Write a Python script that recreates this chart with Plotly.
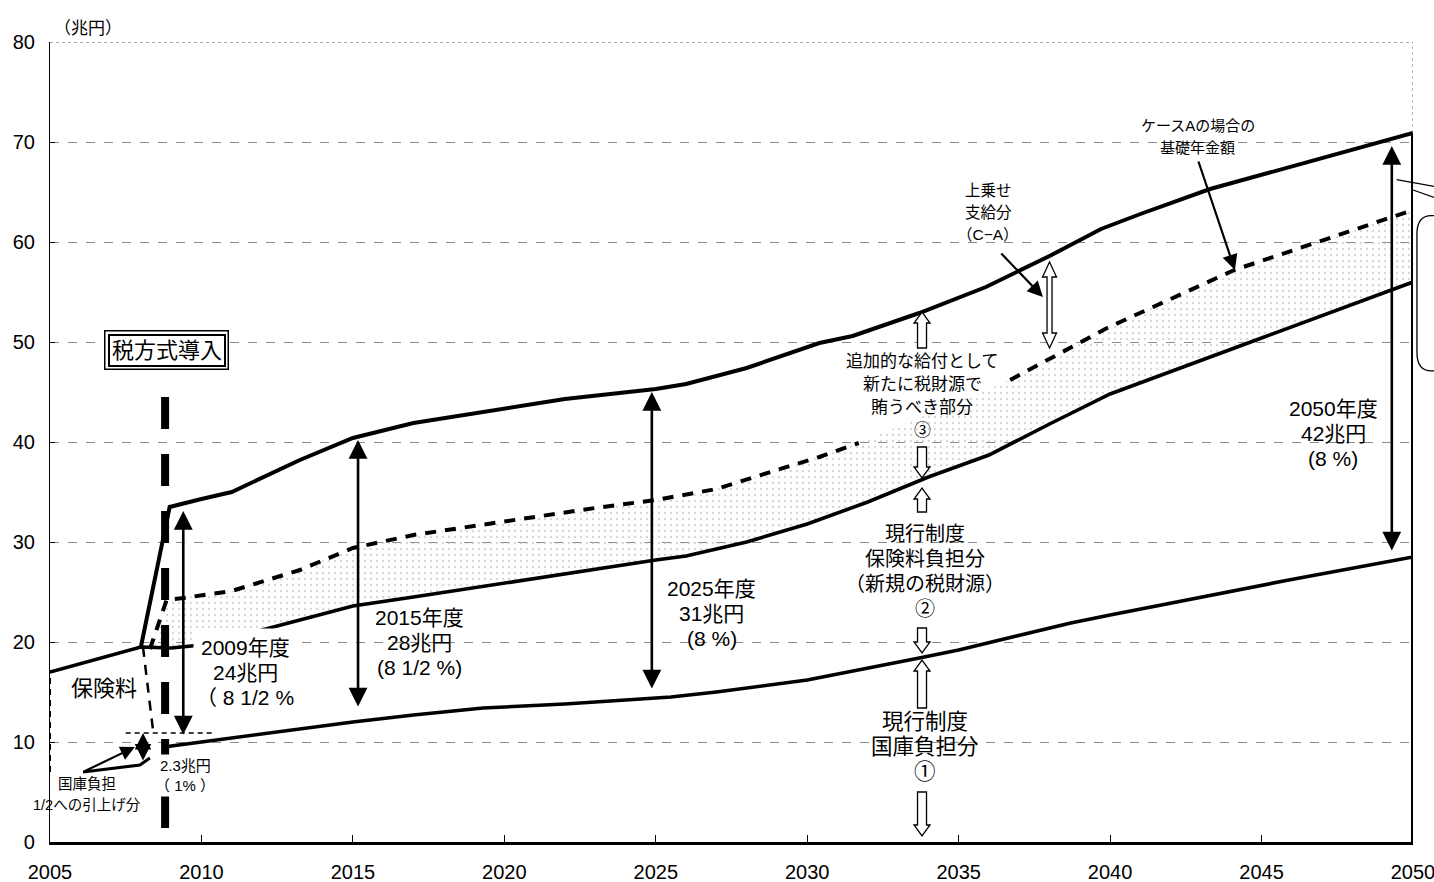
import plotly.graph_objects as go

# ---------------- data (兆円) ----------------
x_ticks = [2005, 2010, 2015, 2020, 2025, 2030, 2035, 2040, 2045, 2050]
y_ticks = [0, 10, 20, 30, 40, 50, 60, 70, 80]

# 税方式による給付総額（ケースC）
top_years = [2008.0, 2008.95, 2010, 2011, 2013.25, 2015, 2017, 2020, 2022, 2025, 2026, 2028,
             2030.4, 2031.5, 2033.7, 2035.9, 2038, 2039.7, 2041, 2043.3, 2045, 2050]
top_vals = [19.5, 33.5, 34.3, 35.0, 38.2, 40.4, 41.9, 43.4, 44.3, 45.3, 45.8, 47.4,
            49.9, 50.6, 52.9, 55.5, 58.6, 61.3, 62.8, 65.3, 66.7, 70.9]

# 現行制度（国庫負担＋保険料）
mid_years = [2005, 2008, 2009, 2010, 2012, 2013, 2015, 2017, 2020, 2023, 2025, 2026, 2028,
             2030, 2032, 2034, 2036, 2038, 2040, 2045, 2050]
mid_vals = [17.0, 19.5, 19.4, 19.7, 21.2, 22.0, 23.6, 24.5, 25.9, 27.3, 28.2, 28.6, 30.0,
            31.8, 34.0, 36.5, 38.7, 41.8, 44.8, 50.4, 56.0]

# 現行制度 国庫負担分
kok_years = [2008.7, 2009, 2010, 2012, 2015, 2017, 2019.3, 2022, 2025.5, 2027, 2030,
             2033.7, 2035, 2038.7, 2040, 2045.9, 2050]
kok_vals = [9.4, 9.6, 10.0, 10.8, 12.0, 12.7, 13.4, 13.8, 14.5, 15.0, 16.2,
            18.4, 19.2, 21.9, 22.7, 26.2, 28.5]

# ケースAの場合の基礎年金額
ca_years = [2008.3, 2008.85, 2009.4, 2011, 2013.25, 2015, 2017, 2020, 2023, 2025, 2027,
            2029, 2030.4, 2031.7, 2036.7, 2038.7, 2039.9, 2044.1, 2050]
ca_vals = [19.3, 24.2, 24.4, 25.1, 27.2, 29.4, 30.7, 32.1, 33.4, 34.2, 35.3,
           37.2, 38.5, 39.9, 46.2, 49.4, 51.4, 57.2, 63.2]

kokko_2005 = 7.0          # 2005年度 国庫負担
kokko_half_level = 10.9   # 国庫負担1/2引上げ後
reform_year = 2008.8      # 税方式導入

# 必要税財源の矢印 (年, 下端, 上端)
need_years = [2009.4, 2015.17, 2024.87, 2049.3]
need_low = [10.6, 13.4, 15.2, 29.0]
need_high = [33.1, 40.2, 45.0, 69.6]
need_labels = [["2009年度", "24兆円", "（ 8 1/2 %"],
               ["2015年度", "28兆円", "(8 1/2 %)"],
               ["2025年度", "31兆円", "(8 %)"],
               ["2050年度", "42兆円", "(8 %)"]]
need_label_pos = [(2011.44, 17.0), (2017.2, 20.0), (2026.85, 22.9), (2047.36, 40.9)]

FONT = "Liberation Sans, Noto Sans CJK JP, sans-serif"
PX_PER_Y = 800 / 80.0

fig = go.Figure()

# stippled area between 現行制度 and ケースA
sel = [i for i, x in enumerate(mid_years) if x >= ca_years[0]]
poly_x = [mid_years[i] for i in sel] + ca_years[::-1]
poly_y = [mid_vals[i] for i in sel] + ca_vals[::-1]
fig.add_trace(go.Scatter(x=poly_x, y=poly_y, mode="lines", fill="toself",
                         fillcolor="rgba(0,0,0,0)", line=dict(width=0),
                         fillpattern=dict(shape=".", fgcolor="#b0b0b0", bgcolor="rgba(0,0,0,0)",
                                          size=6, solidity=0.12),
                         hoverinfo="skip", showlegend=False))

# main solid lines
fig.add_trace(go.Scatter(x=mid_years, y=mid_vals, mode="lines",
                         line=dict(color="black", width=3.6), showlegend=False))
fig.add_trace(go.Scatter(x=top_years, y=top_vals, mode="lines",
                         line=dict(color="black", width=4), showlegend=False))
fig.add_trace(go.Scatter(x=kok_years, y=kok_vals, mode="lines",
                         line=dict(color="black", width=3.6), showlegend=False))
# 2050 closing line
fig.add_trace(go.Scatter(x=[top_years[-1], top_years[-1]], y=[0, top_vals[-1]], mode="lines",
                         line=dict(color="black", width=4), showlegend=False))

# ケースA dashed line (gap behind label)
split = next(i for i, x in enumerate(ca_years) if x > 2032)
for a, b in [(0, split), (split, len(ca_years))]:
    fig.add_trace(go.Scatter(x=ca_years[a:b], y=ca_vals[a:b], mode="lines",
                             line=dict(color="black", width=4, dash="11px,9px"), showlegend=False))

# 保険料 region boundaries
fig.add_trace(go.Scatter(x=[mid_years[0], mid_years[0]], y=[kokko_2005, mid_vals[0]], mode="lines",
                         line=dict(color="black", width=2, dash="6px,5px"), showlegend=False))
fig.add_trace(go.Scatter(x=[2008.07, 2008.4], y=[mid_vals[1], kokko_half_level + 0.3], mode="lines",
                         line=dict(color="black", width=2.5, dash="10px,8px"), showlegend=False))
fig.add_trace(go.Scatter(x=[2007.5, 2010.4], y=[kokko_half_level, kokko_half_level], mode="lines",
                         line=dict(color="black", width=1.3, dash="5px,4px"), showlegend=False))

# 税方式導入 thick dashed vertical
fig.add_trace(go.Scatter(x=[reform_year, reform_year], y=[44.5, 1.2], mode="lines",
                         line=dict(color="black", width=8, dash="32px,25px"), showlegend=False))

shapes = []
annotations = []


def hollow_arrow(x, y_from, y_to, w, hw, hl, both=False):
    L = abs(y_to - y_from) * PX_PER_Y
    d = 1 if y_to > y_from else -1
    if both:
        pts = [(0, 0), (hw, d * hl), (w, d * hl), (w, d * (L - hl)), (hw, d * (L - hl)), (0, d * L),
               (-hw, d * (L - hl)), (-w, d * (L - hl)), (-w, d * hl), (-hw, d * hl)]
    else:
        pts = [(-w, 0), (-w, d * (L - hl)), (-hw, d * (L - hl)), (0, d * L),
               (hw, d * (L - hl)), (w, d * (L - hl)), (w, 0)]
    path = "M " + " L ".join(f"{px:.1f},{py:.1f}" for px, py in pts) + " Z"
    shapes.append(dict(type="path", xref="x", yref="y", xsizemode="pixel", ysizemode="pixel",
                       xanchor=x, yanchor=y_from, path=path,
                       line=dict(color="black", width=1.3), fillcolor="white", layer="above"))


hx = 2033.79
for y0, y1 in [(49.4, 53.0), (39.5, 36.4), (33.0, 35.4), (21.4, 18.9), (13.4, 18.2), (5.0, 0.6)]:
    hollow_arrow(hx, y0, y1, 4.5, 8, 11)
hollow_arrow(2038.0, 49.4, 58.0, 2.5, 7, 15, both=True)


def dbl_arrow(x, y0, y1, width=2.6, size=1.45):
    annotations.append(dict(x=x, y=y1, ax=x, ay=y0, xref="x", yref="y", axref="x", ayref="y",
                            text="", showarrow=True, arrowhead=2, startarrowhead=2,
                            arrowside="end+start", arrowwidth=width, arrowsize=size,
                            startarrowsize=size, arrowcolor="black"))


def pointer(x0, y0, x1, y1, width=2.2, size=1.4):
    annotations.append(dict(x=x1, y=y1, ax=x0, ay=y0, xref="x", yref="y", axref="x", ayref="y",
                            text="", showarrow=True, arrowhead=2, arrowwidth=width, arrowsize=size,
                            arrowcolor="black"))


for xv, lo, hi in zip(need_years, need_low, need_high):
    dbl_arrow(xv, lo, hi)
dbl_arrow(2008.07, 8.0, kokko_half_level, width=3, size=1.1)

pointer(2036.36, 59.0, 2037.78, 54.5)
pointer(2042.9, 68.2, 2044.12, 57.2)
pointer(2006.09, kokko_2005, 2007.8, 9.5, width=2.2, size=1.3)
shapes.append(dict(type="path", xref="x", yref="y",
                   path=f"M 2006.09,{kokko_2005} L 2007.97,7.7 L 2008.3,8.4",
                   line=dict(color="black", width=3)))


def label_lines(x, y, lines, size, spacing, bg=None, xref="x", yref="y", xanchor="center", pad=1):
    n = len(lines)
    for i, t in enumerate(lines):
        d = dict(x=x, y=y, xref=xref, yref=yref, text=t, showarrow=False, xanchor=xanchor,
                 yshift=((n - 1) / 2.0 - i) * spacing,
                 font=dict(family=FONT, size=size, color="black"), align="center")
        if bg is not None and i in bg:
            d["bgcolor"] = "white"
            d["borderpad"] = pad
        annotations.append(d)


for (lx, ly), t, i in zip(need_label_pos, need_labels, range(4)):
    label_lines(lx, ly, t, 21, 25, bg=[0] if i == 0 else None, pad=7)

label_lines(2006.77, 15.4, ["保険料"], 22, 0)
label_lines(2009.46, 6.7, ["2.3兆円", "（ 1% ）"], 15, 20, bg=[0, 1], pad=2)
label_lines(2006.22, 4.75, ["国庫負担", "1/2への引上げ分"], 14.5, 21)
label_lines(2035.97, 63.0, ["上乗せ", "支給分", "（C−A）"], 15.5, 22)
label_lines(2042.9, 70.6, ["ケースAの場合の", "基礎年金額"], 15, 22)
label_lines(2033.79, 44.6, ["追加的な給付として", "新たに税財源で", "賄うべき部分", "③"], 17, 22.7)
label_lines(2033.9, 27.1, ["現行制度", "保険料負担分", "（新規の税財源）", "②"], 20, 25)
label_lines(2033.9, 9.5, ["現行制度", "国庫負担分", "①"], 21.5, 25)
label_lines(0.0015, 1.031, ["（兆円）"], 17, 0, xref="paper", yref="paper", xanchor="left")

# 税方式導入 double box
for pad, bw in [(6, 1.5), (2, 2)]:
    annotations.append(dict(x=2008.86, y=49.2, xref="x", yref="y", text="税方式導入", showarrow=False,
                            font=dict(family=FONT, size=22, color="black"),
                            bgcolor="white", bordercolor="black", borderwidth=bw, borderpad=pad))

# frame: dotted top and right
shapes.append(dict(type="line", xref="paper", yref="y", x0=0, x1=1, y0=80, y1=80,
                   line=dict(color="#555", width=1, dash="dot")))
shapes.append(dict(type="line", xref="x", yref="y", x0=2050, x1=2050, y0=top_vals[-1], y1=80,
                   line=dict(color="#777", width=1, dash="dot")))

# partially visible callout at right edge
shapes.append(dict(type="path", xref="paper", yref="paper",
                   path="M 1.03,0.783 L 1.0135,0.783 Q 1.0029,0.783 1.0029,0.760 "
                        "L 1.0029,0.612 Q 1.0029,0.589 1.0135,0.589 L 1.03,0.589",
                   line=dict(color="black", width=1.3)))
shapes.append(dict(type="line", xref="paper", yref="paper", x0=0.988, y0=0.828, x1=1.03, y1=0.815,
                   line=dict(color="black", width=1.3)))
shapes.append(dict(type="line", xref="paper", yref="paper", x0=1.0, y0=0.815, x1=1.03, y1=0.797,
                   line=dict(color="black", width=1.3)))

fig.update_layout(
    width=1434, height=882,
    margin=dict(l=50, r=21, t=42, b=40),
    paper_bgcolor="white", plot_bgcolor="white",
    showlegend=False,
    shapes=shapes, annotations=annotations,
    font=dict(family=FONT, color="black"),
    xaxis=dict(range=[2005, 2050], tickvals=x_ticks, ticks="inside", ticklen=7, tickcolor="black",
               showline=True, linewidth=3, linecolor="black", showgrid=False, zeroline=False,
               tickfont=dict(size=20, family=FONT), ticklabelstandoff=10, automargin=False,
               ticklabeloverflow="allow"),
    yaxis=dict(range=[0, 80], tickvals=y_ticks, ticks="inside", ticklen=5, tickcolor="black",
               showline=True, linewidth=1.2, linecolor="black", showgrid=True,
               gridcolor="#8c8c8c", griddash="dash", gridwidth=1, zeroline=False,
               tickfont=dict(size=20, family=FONT), ticklabelstandoff=10, automargin=False,
               ticklabeloverflow="allow"),
)

fig.write_html("out.html", config={"displayModeBar": False},
               post_script="document.body.style.margin='0';")
